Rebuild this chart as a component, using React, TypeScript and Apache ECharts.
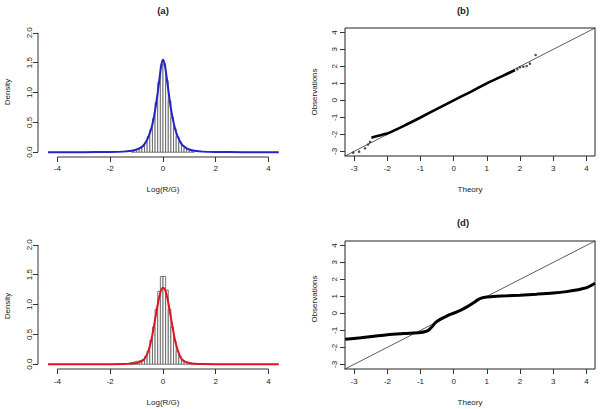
import React, { useEffect, useRef } from "react";
import * as echarts from "echarts";

// ---------- data ----------
const BIN_WIDTH = 0.1;

// (a) histogram
const aBinCenters = [-1.15, -1.05, -0.95, -0.85, -0.75, -0.65, -0.55, -0.45, -0.35, -0.25, -0.15, -0.05, 0.05, 0.15, 0.25, 0.35, 0.45, 0.55, 0.65, 0.75, 0.85, 0.95, 1.05, 1.15];
const aBinHeights = [0.02, 0.03, 0.05, 0.07, 0.1, 0.16, 0.26, 0.38, 0.56, 0.83, 1.17, 1.46, 1.48, 1.2, 0.86, 0.58, 0.39, 0.26, 0.17, 0.11, 0.07, 0.05, 0.03, 0.02];
// (a) density curve
const aCurveX = [-4.36, -3, -2, -1.5, -1.2, -1.0, -0.9, -0.8, -0.7, -0.6, -0.5, -0.4, -0.3, -0.2, -0.1, -0.05, 0, 0.05, 0.1, 0.2, 0.3, 0.4, 0.5, 0.6, 0.7, 0.8, 0.9, 1.0, 1.2, 1.5, 2, 3, 4.39];
const aCurveY = [0, 0.001, 0.004, 0.01, 0.025, 0.045, 0.065, 0.09, 0.135, 0.21, 0.32, 0.47, 0.7, 1.0, 1.35, 1.49, 1.55, 1.5, 1.38, 1.05, 0.73, 0.5, 0.33, 0.22, 0.14, 0.095, 0.065, 0.045, 0.025, 0.01, 0.004, 0.001, 0];

// (c) histogram
const cBinCenters = [-1.25, -1.15, -1.05, -0.95, -0.85, -0.75, -0.65, -0.55, -0.45, -0.35, -0.25, -0.15, -0.05, 0.05, 0.15, 0.25, 0.35, 0.45, 0.55, 0.65, 0.75, 0.85, 0.95, 1.05, 1.15, 1.25];
const cBinHeights = [0.02, 0.03, 0.04, 0.05, 0.06, 0.08, 0.13, 0.22, 0.4, 0.62, 0.92, 1.22, 1.47, 1.47, 1.24, 0.92, 0.62, 0.38, 0.22, 0.12, 0.07, 0.04, 0.03, 0.02, 0.01, 0.01];
// (c) density curve
const cCurveX = [-4.36, -2, -1.5, -1.2, -1.0, -0.8, -0.7, -0.6, -0.5, -0.4, -0.3, -0.2, -0.1, 0, 0.1, 0.2, 0.3, 0.4, 0.5, 0.6, 0.7, 0.8, 1.0, 1.2, 1.5, 2, 4.39];
const cCurveY = [0, 0.001, 0.004, 0.01, 0.02, 0.05, 0.09, 0.17, 0.3, 0.5, 0.75, 1.0, 1.2, 1.28, 1.22, 1.03, 0.78, 0.53, 0.32, 0.18, 0.09, 0.05, 0.02, 0.008, 0.003, 0.001, 0];

// (b) QQ plot: dense part and sparse outlying points
const bDenseX = [-2.48, -2.3, -2.15, -2.0, -1.5, -1.0, -0.5, 0, 0.5, 1.0, 1.3, 1.5, 1.7, 1.85];
const bDenseY = [-2.2, -2.1, -2.02, -1.95, -1.5, -1.01, -0.5, 0, 0.49, 1.0, 1.28, 1.46, 1.64, 1.78];
const bSparseX = [-3.03, -2.85, -2.67, -2.58, -2.52, 1.92, 2.0, 2.1, 2.2, 2.3, 2.47];
const bSparseY = [-3.08, -3.02, -2.82, -2.6, -2.45, 1.84, 1.95, 1.98, 2.02, 2.16, 2.67];

// (d) QQ plot
const dX = [-3.27, -2.8, -2.4, -2.0, -1.5, -1.0, -0.85, -0.75, -0.65, -0.55, -0.42, -0.25, -0.1, 0, 0.2, 0.4, 0.6, 0.75, 0.85, 1.0, 1.2, 1.6, 2.0, 2.5, 3.0, 3.4, 3.7, 3.9, 4.05, 4.15, 4.26];
const dY = [-1.53, -1.44, -1.35, -1.26, -1.19, -1.13, -1.07, -0.98, -0.78, -0.55, -0.37, -0.2, -0.06, 0.01, 0.17, 0.38, 0.62, 0.83, 0.91, 0.96, 1.0, 1.03, 1.07, 1.13, 1.2, 1.28, 1.37, 1.46, 1.55, 1.65, 1.77];

// axes / ticks
const histXTicks = [-4, -2, 0, 2, 4];
const histYTicks = [0, 0.5, 1, 1.5, 2];
const qqTicks = [-3, -2, -1, 0, 1, 2, 3, 4];
const HIST_X_RANGE = [-4.74, 4.74];
const HIST_Y_RANGE = [-0.08, 2.08];
const QQ_RANGE = [-3.275, 4.26];

const FONT = "'Liberation Sans', Arial, Helvetica, sans-serif";
const TEXT = "#222";

const zip = (xs: number[], ys: number[]) => xs.map((x, i) => [x, ys[i]]);

function axis(gridIndex: number, range: number[], ticks: number[], kind: "x" | "y", fmt: (v: number) => string, margin: number) {
  return {
    type: "value",
    gridIndex,
    min: range[0],
    max: range[1],
    axisLine: { show: false, onZero: false },
    splitLine: { show: false },
    axisTick: { show: true, customValues: ticks, length: 5, lineStyle: { color: "#333", width: 1 } },
    axisLabel: {
      customValues: ticks,
      formatter: fmt,
      color: TEXT,
      fontSize: 8,
      fontFamily: FONT,
      margin,
      rotate: kind === "y" ? 90 : 0,
    },
  };
}

function histRenderItem(params: any, api: any) {
  const x = api.value(0);
  const h = api.value(1);
  const p0 = api.coord([x - BIN_WIDTH / 2, 0]);
  const p1 = api.coord([x + BIN_WIDTH / 2, h]);
  return {
    type: "rect",
    shape: { x: p0[0], y: p1[1], width: p1[0] - p0[0], height: p0[1] - p1[1] },
    style: { fill: "#ffffff", stroke: "#555", lineWidth: 0.8 },
  };
}

// R-style axis segments: x axis from first to last tick, y axis from first to last tick
function histAxisSeries(gi: number) {
  const common = {
    type: "line",
    xAxisIndex: gi,
    yAxisIndex: gi,
    symbol: "none",
    clip: false,
    silent: true,
    z: 1,
    lineStyle: { color: "#333", width: 1 },
  };
  return [
    { ...common, data: [[histXTicks[0], HIST_Y_RANGE[0]], [histXTicks[histXTicks.length - 1], HIST_Y_RANGE[0]]] },
    { ...common, data: [[HIST_X_RANGE[0], histYTicks[0]], [HIST_X_RANGE[0], histYTicks[histYTicks.length - 1]]] },
  ];
}

function text(x: number, y: number, s: string, opts: any = {}) {
  return {
    type: "text",
    x,
    y,
    rotation: opts.rotation || 0,
    style: {
      text: s,
      fill: TEXT,
      font: `${opts.bold ? "bold " : ""}${opts.size || 8}px ${FONT}`,
      textAlign: "center",
      textVerticalAlign: "middle",
    },
  };
}

export default function App() {
  const ref = useRef<HTMLDivElement>(null);
  useEffect(() => {
    if (!ref.current) return;
    const chart = echarts.init(ref.current, null, { renderer: "svg" });
    const fmt1 = (v: number) => v.toFixed(1);
    const fmt0 = (v: number) => String(v);
    chart.setOption({
      animation: false,
      backgroundColor: "#ffffff",
      grid: [
        { left: 38, top: 28, width: 250, height: 129 },
        { left: 345, top: 28, width: 250, height: 128, show: true, borderColor: "#222", borderWidth: 1, backgroundColor: "transparent" },
        { left: 38, top: 240, width: 250, height: 129 },
        { left: 345, top: 241, width: 250, height: 128, show: true, borderColor: "#222", borderWidth: 1, backgroundColor: "transparent" },
      ],
      xAxis: [
        axis(0, HIST_X_RANGE, histXTicks, "x", fmt0, 7),
        axis(1, QQ_RANGE, qqTicks, "x", fmt0, 8),
        axis(2, HIST_X_RANGE, histXTicks, "x", fmt0, 8),
        axis(3, QQ_RANGE, qqTicks, "x", fmt0, 8),
      ],
      yAxis: [
        axis(0, HIST_Y_RANGE, histYTicks, "y", fmt1, 5),
        axis(1, QQ_RANGE, qqTicks, "y", fmt0, 7),
        axis(2, HIST_Y_RANGE, histYTicks, "y", fmt1, 5),
        axis(3, QQ_RANGE, qqTicks, "y", fmt0, 7),
      ],
      series: [
        ...histAxisSeries(0),
        ...histAxisSeries(2),
        {
          type: "custom",
          xAxisIndex: 0,
          yAxisIndex: 0,
          renderItem: histRenderItem,
          encode: { x: 0, y: 1 },
          data: zip(aBinCenters, aBinHeights),
          clip: false,
          z: 2,
        },
        {
          type: "line",
          xAxisIndex: 0,
          yAxisIndex: 0,
          data: zip(aCurveX, aCurveY),
          smooth: 0.3,
          symbol: "none",
          lineStyle: { color: "#2424c8", width: 2 },
          z: 3,
        },
        {
          type: "custom",
          xAxisIndex: 2,
          yAxisIndex: 2,
          renderItem: histRenderItem,
          encode: { x: 0, y: 1 },
          data: zip(cBinCenters, cBinHeights),
          clip: false,
          z: 2,
        },
        {
          type: "line",
          xAxisIndex: 2,
          yAxisIndex: 2,
          data: zip(cCurveX, cCurveY),
          smooth: 0.3,
          symbol: "none",
          lineStyle: { color: "#e0141e", width: 2 },
          z: 3,
        },
        // (b)
        {
          type: "line",
          xAxisIndex: 1,
          yAxisIndex: 1,
          data: [[QQ_RANGE[0] - 1, QQ_RANGE[0] - 1], [QQ_RANGE[1] + 1, QQ_RANGE[1] + 1]],
          symbol: "none",
          clip: true,
          lineStyle: { color: "#333", width: 0.8 },
        },
        {
          type: "line",
          xAxisIndex: 1,
          yAxisIndex: 1,
          data: zip(bDenseX, bDenseY),
          symbol: "none",
          smooth: 0.2,
          lineStyle: { color: "#000", width: 2.6 },
        },
        {
          type: "scatter",
          xAxisIndex: 1,
          yAxisIndex: 1,
          data: zip(bSparseX, bSparseY),
          symbol: "circle",
          symbolSize: 2.6,
          itemStyle: { color: "#222" },
        },
        // (d)
        {
          type: "line",
          xAxisIndex: 3,
          yAxisIndex: 3,
          data: [[QQ_RANGE[0] - 1, QQ_RANGE[0] - 1], [QQ_RANGE[1] + 1, QQ_RANGE[1] + 1]],
          symbol: "none",
          clip: true,
          lineStyle: { color: "#333", width: 0.8 },
        },
        {
          type: "line",
          xAxisIndex: 3,
          yAxisIndex: 3,
          data: zip(dX, dY),
          symbol: "none",
          smooth: 0.3,
          clip: true,
          lineStyle: { color: "#000", width: 3 },
        },
      ],
      graphic: [
        text(163, 10, "(a)", { bold: true, size: 9.5 }),
        text(463, 10, "(b)", { bold: true, size: 9.5 }),
        text(463, 222, "(d)", { bold: true, size: 9.5 }),
        text(163, 189, "Log(R/G)"),
        text(163, 402, "Log(R/G)"),
        text(470, 189, "Theory"),
        text(470, 402, "Theory"),
        text(7, 92, "Density", { rotation: Math.PI / 2 }),
        text(7, 306, "Density", { rotation: Math.PI / 2 }),
        text(314, 92, "Observations", { rotation: Math.PI / 2 }),
        text(314, 299, "Observations", { rotation: Math.PI / 2 }),
      ],
    });
    return () => chart.dispose();
  }, []);
  return <div ref={ref} style={{ width: 600, height: 409, position: "absolute", left: 0, top: 0 }} />;
}
